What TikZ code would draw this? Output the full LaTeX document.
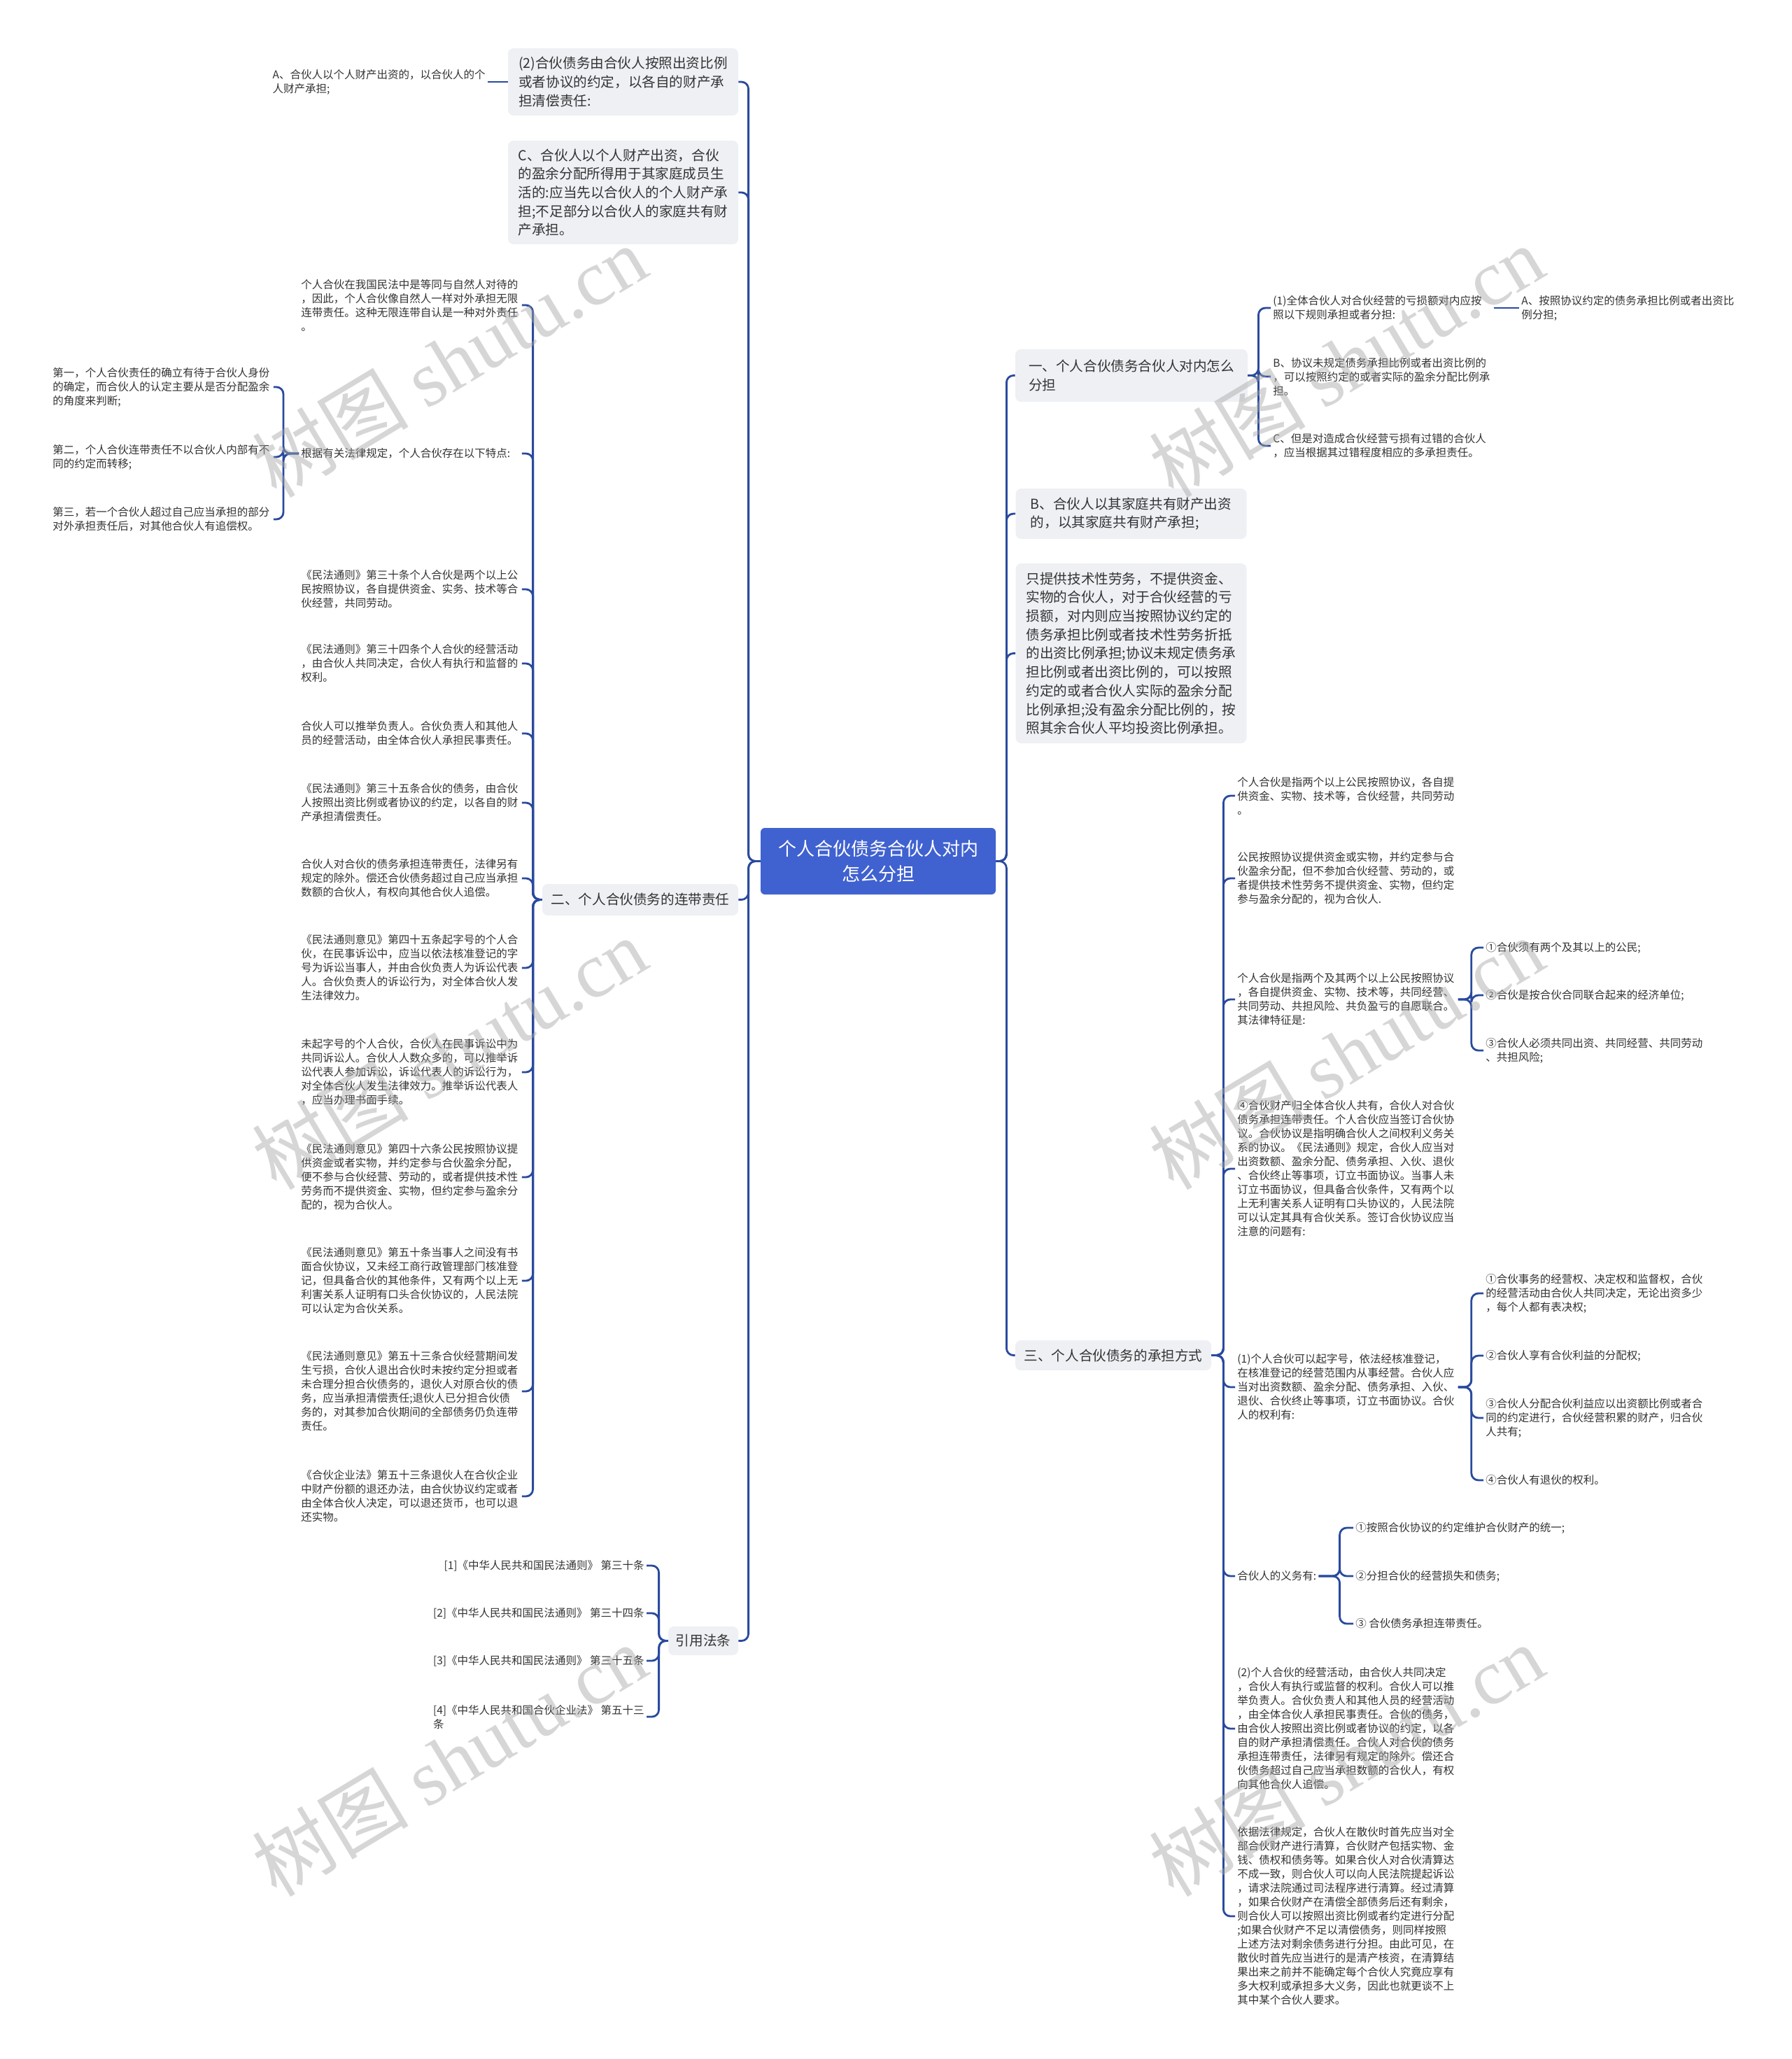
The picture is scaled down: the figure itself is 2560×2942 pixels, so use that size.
\documentclass[tikz,border=0pt]{standalone}
\usepackage{fontspec}
\setmainfont{Noto Sans CJK SC}
\newfontfamily\wmfont{Liberation Serif}
\definecolor{lnc}{HTML}{2A4A9E}
\definecolor{rootc}{HTML}{4062D0}
\definecolor{boxc}{HTML}{EEF0F4}
\definecolor{txc}{HTML}{333333}
\newcommand\smtxt{\fontsize{7.75pt}{10pt}\selectfont}
\newcommand\bxtxt{\fontsize{9.8pt}{13.35pt}\selectfont}
\newcommand\rttxt{\fontsize{13pt}{17.8pt}\selectfont}
\newcommand\wmtxt{\fontsize{56pt}{60pt}\selectfont}
\begin{document}
\begin{tikzpicture}[x=0.5pt,y=-0.5pt,
  lk/.style={draw=lnc, line width=1.4pt, rounded corners=5pt},
  rootbox/.style={fill=rootc, rounded corners=3pt, text=white, font=\rttxt, align=center, inner sep=0pt},
  gbox/.style={fill=boxc, rounded corners=4pt, text=txc, font=\bxtxt, align=left, inner sep=0pt},
  tx/.style={text=txc, font=\smtxt, align=left, inner xsep=1.5pt, inner ysep=1pt},
  twide/.style={tx, text width=156pt},
  wm/.style={text=black!35, text opacity=0.45, font=\wmtxt, rotate=31, inner sep=0pt}
]
\fill[white] (0,0) rectangle (2560,2942);
\useasboundingbox (0,0) rectangle (2560,2942);

% root
\node[rootbox, minimum width=168pt, minimum height=47.5pt] (root) at (1255,1230.5) {个人合伙债务合伙人对内\\怎么分担};

% ---------- left side ----------
\node[gbox, minimum width=164.5pt, minimum height=48pt] (n2) at (890.5,117) {(2)合伙债务由合伙人按照出资比例\\或者协议的约定，以各自的财产承\\担清偿责任:};
\node[tx, anchor=east] (n2a) at (697,117) {A、合伙人以个人财产出资的，以合伙人的个\\人财产承担;};
\node[gbox, minimum width=164.5pt, minimum height=74pt] (nC) at (890.5,275) {C、合伙人以个人财产出资，合伙\\的盈余分配所得用于其家庭成员生\\活的:应当先以合伙人的个人财产承\\担;不足部分以合伙人的家庭共有财\\产承担。};
\node[gbox, minimum width=140pt, minimum height=22.5pt] (er) at (915,1285.5) {二、个人合伙债务的连带责任};
\node[gbox, minimum width=50pt, minimum height=20.5pt] (yin) at (1005,2344.5) {引用法条};

\node[twide, anchor=west] (e1) at (427,436) {个人合伙在我国民法中是等同与自然人对待的\\，因此，个人合伙像自然人一样对外承担无限\\连带责任。这种无限连带自认是一种对外责任\\。};
\node[twide, anchor=west] (e2) at (427,648) {根据有关法律规定，个人合伙存在以下特点:};
\node[twide, anchor=west] (e3) at (427,842) {《民法通则》第三十条个人合伙是两个以上公\\民按照协议，各自提供资金、实务、技术等合\\伙经营，共同劳动。};
\node[twide, anchor=west] (e4) at (427,948) {《民法通则》第三十四条个人合伙的经营活动\\，由合伙人共同决定，合伙人有执行和监督的\\权利。};
\node[twide, anchor=west] (e5) at (427,1048) {合伙人可以推举负责人。合伙负责人和其他人\\员的经营活动，由全体合伙人承担民事责任。};
\node[twide, anchor=west] (e6) at (427,1147) {《民法通则》第三十五条合伙的债务，由合伙\\人按照出资比例或者协议的约定，以各自的财\\产承担清偿责任。};
\node[twide, anchor=west] (e7) at (427,1255) {合伙人对合伙的债务承担连带责任，法律另有\\规定的除外。偿还合伙债务超过自己应当承担\\数额的合伙人，有权向其他合伙人追偿。};
\node[twide, anchor=west] (e8) at (427,1383) {《民法通则意见》第四十五条起字号的个人合\\伙，在民事诉讼中，应当以依法核准登记的字\\号为诉讼当事人，并由合伙负责人为诉讼代表\\人。合伙负责人的诉讼行为，对全体合伙人发\\生法律效力。};
\node[twide, anchor=west] (e9) at (427,1532) {未起字号的个人合伙，合伙人在民事诉讼中为\\共同诉讼人。合伙人人数众多的，可以推举诉\\讼代表人参加诉讼，诉讼代表人的诉讼行为，\\对全体合伙人发生法律效力。推举诉讼代表人\\，应当办理书面手续。};
\node[twide, anchor=west] (e10) at (427,1682) {《民法通则意见》第四十六条公民按照协议提\\供资金或者实物，并约定参与合伙盈余分配，\\便不参与合伙经营、劳动的，或者提供技术性\\劳务而不提供资金、实物，但约定参与盈余分\\配的，视为合伙人。};
\node[twide, anchor=west] (e11) at (427,1830) {《民法通则意见》第五十条当事人之间没有书\\面合伙协议，又未经工商行政管理部门核准登\\记，但具备合伙的其他条件，又有两个以上无\\利害关系人证明有口头合伙协议的，人民法院\\可以认定为合伙关系。};
\node[twide, anchor=west] (e12) at (427,1988) {《民法通则意见》第五十三条合伙经营期间发\\生亏损，合伙人退出合伙时未按约定分担或者\\未合理分担合伙债务的，退伙人对原合伙的债\\务，应当承担清偿责任;退伙人已分担合伙债\\务的，对其参加合伙期间的全部债务仍负连带\\责任。};
\node[twide, anchor=west] (e13) at (427,2138) {《合伙企业法》第五十三条退伙人在合伙企业\\中财产份额的退还办法，由合伙协议约定或者\\由全体合伙人决定，可以退还货币，也可以退\\还实物。};

\node[twide, anchor=west] (g1) at (72,553) {第一，个人合伙责任的确立有待于合伙人身份\\的确定，而合伙人的认定主要从是否分配盈余\\的角度来判断;};
\node[twide, anchor=west] (g2) at (72,653) {第二，个人合伙连带责任不以合伙人内部有不\\同的约定而转移;};
\node[twide, anchor=west] (g3) at (72,742) {第三，若一个合伙人超过自己应当承担的部分\\对外承担责任后，对其他合伙人有追偿权。};

\node[tx, anchor=east] (c1) at (924,2237) {[1]《中华人民共和国民法通则》 第三十条};
\node[tx, anchor=east] (c2) at (924,2305) {[2]《中华人民共和国民法通则》 第三十四条};
\node[tx, anchor=east] (c3) at (924,2373) {[3]《中华人民共和国民法通则》 第三十五条};
\node[tx, anchor=east] (c4) at (924,2453) {[4]《中华人民共和国合伙企业法》 第五十三\\条};

% ---------- right side ----------
\node[gbox, minimum width=166pt, minimum height=37.5pt] (yi) at (1617,536.5) {一、个人合伙债务合伙人对内怎么\\分担};
\node[twide, anchor=west] (r1) at (1816,440) {(1)全体合伙人对合伙经营的亏损额对内应按\\照以下规则承担或者分担:};
\node[tx, anchor=west] (r1a) at (2171,440) {A、按照协议约定的债务承担比例或者出资比\\例分担;};
\node[twide, anchor=west] (r2) at (1816,538) {B、协议未规定债务承担比例或者出资比例的\\，可以按照约定的或者实际的盈余分配比例承\\担。};
\node[twide, anchor=west] (r3) at (1816,637) {C、但是对造成合伙经营亏损有过错的合伙人\\，应当根据其过错程度相应的多承担责任。};

\node[gbox, minimum width=165pt, minimum height=36pt] (B2) at (1616.5,734) {B、合伙人以其家庭共有财产出资\\的，以其家庭共有财产承担;};
\node[gbox, minimum width=165pt, minimum height=128.5pt] (zhi) at (1616.5,933.5) {只提供技术性劳务，不提供资金、\\实物的合伙人，对于合伙经营的亏\\损额，对内则应当按照协议约定的\\债务承担比例或者技术性劳务折抵\\的出资比例承担;协议未规定债务承\\担比例或者出资比例的，可以按照\\约定的或者合伙人实际的盈余分配\\比例承担;没有盈余分配比例的，按\\照其余合伙人平均投资比例承担。};
\node[gbox, minimum width=140pt, minimum height=21.5pt] (san) at (1591,1936.5) {三、个人合伙债务的承担方式};

\node[twide, anchor=west] (s1) at (1765,1137) {个人合伙是指两个以上公民按照协议，各自提\\供资金、实物、技术等，合伙经营，共同劳动\\。};
\node[twide, anchor=west] (s2) at (1765,1255) {公民按照协议提供资金或实物，并约定参与合\\伙盈余分配，但不参加合伙经营、劳动的，或\\者提供技术性劳务不提供资金、实物，但约定\\参与盈余分配的，视为合伙人.};
\node[twide, anchor=west] (s3) at (1765,1428) {个人合伙是指两个及其两个以上公民按照协议\\，各自提供资金、实物、技术等，共同经营、\\共同劳动、共担风险、共负盈亏的自愿联合。\\其法律特征是:};
\node[tx, anchor=west] (t1) at (2120,1354) {①合伙须有两个及其以上的公民;};
\node[tx, anchor=west] (t2) at (2120,1422) {②合伙是按合伙合同联合起来的经济单位;};
\node[tx, anchor=west] (t3) at (2120,1501) {③合伙人必须共同出资、共同经营、共同劳动\\、共担风险;};
\node[twide, anchor=west] (s4) at (1765,1670) {④合伙财产归全体合伙人共有，合伙人对合伙\\债务承担连带责任。个人合伙应当签订合伙协\\议。合伙协议是指明确合伙人之间权利义务关\\系的协议。《民法通则》规定，合伙人应当对\\出资数额、盈余分配、债务承担、入伙、退伙\\、合伙终止等事项，订立书面协议。当事人未\\订立书面协议，但具备合伙条件，又有两个以\\上无利害关系人证明有口头协议的，人民法院\\可以认定其具有合伙关系。签订合伙协议应当\\注意的问题有:};
\node[twide, anchor=west] (s5) at (1765,1982) {(1)个人合伙可以起字号，依法经核准登记，\\在核准登记的经营范围内从事经营。合伙人应\\当对出资数额、盈余分配、债务承担、入伙、\\退伙、合伙终止等事项，订立书面协议。合伙\\人的权利有:};
\node[tx, anchor=west] (u1) at (2120,1848) {①合伙事务的经营权、决定权和监督权，合伙\\的经营活动由合伙人共同决定，无论出资多少\\，每个人都有表决权;};
\node[tx, anchor=west] (u2) at (2120,1937) {②合伙人享有合伙利益的分配权;};
\node[tx, anchor=west] (u3) at (2120,2026) {③合伙人分配合伙利益应以出资额比例或者合\\同的约定进行，合伙经营积累的财产，归合伙\\人共有;};
\node[tx, anchor=west] (u4) at (2120,2115) {④合伙人有退伙的权利。};
\node[tx, anchor=west] (s6) at (1765,2252) {合伙人的义务有:};
\node[tx, anchor=west] (v1) at (1934,2183) {①按照合伙协议的约定维护合伙财产的统一;};
\node[tx, anchor=west] (v2) at (1934,2252) {②分担合伙的经营损失和债务;};
\node[tx, anchor=west] (v3) at (1934,2320) {③ 合伙债务承担连带责任。};
\node[twide, anchor=west] (s7) at (1765,2470) {(2)个人合伙的经营活动，由合伙人共同决定\\，合伙人有执行或监督的权利。合伙人可以推\\举负责人。合伙负责人和其他人员的经营活动\\，由全体合伙人承担民事责任。合伙的债务，\\由合伙人按照出资比例或者协议的约定，以各\\自的财产承担清偿责任。合伙人对合伙的债务\\承担连带责任，法律另有规定的除外。偿还合\\伙债务超过自己应当承担数额的合伙人，有权\\向其他合伙人追偿。};
\node[twide, anchor=west] (s8) at (1765,2738) {依据法律规定，合伙人在散伙时首先应当对全\\部合伙财产进行清算，合伙财产包括实物、金\\钱、债权和债务等。如果合伙人对合伙清算达\\不成一致，则合伙人可以向人民法院提起诉讼\\，请求法院通过司法程序进行清算。经过清算\\，如果合伙财产在清偿全部债务后还有剩余，\\则合伙人可以按照出资比例或者约定进行分配\\;如果合伙财产不足以清偿债务，则同样按照\\上述方法对剩余债务进行分担。由此可见，在\\散伙时首先应当进行的是清产核资，在清算结\\果出来之前并不能确定每个合伙人究竟应享有\\多大权利或承担多大义务，因此也就更谈不上\\其中某个合伙人要求。};

% ---------- connectors ----------
\foreach \nd in {n2,nC,er,yin} \draw[lk] (root.west) -- ++(-17,0) |- (\nd.east);
\foreach \nd in {yi,B2,zhi,san} \draw[lk] (root.east) -- ++(15,0) |- (\nd.west);
\draw[lk] (n2.west) -- (n2a.east);
\foreach \nd in {e1,e2,e3,e4,e5,e6,e7,e8,e9,e10,e11,e12,e13} \draw[lk] (er.west) -- ++(-13,0) |- (\nd.east);
\foreach \nd in {g1,g2,g3} \draw[lk] (e2.west) -- ++(-22,0) |- (\nd.east);
\foreach \nd in {c1,c2,c3,c4} \draw[lk] (yin.west) -- ++(-13,0) |- (\nd.east);
\foreach \nd in {r1,r2,r3} \draw[lk] (yi.east) -- ++(15,0) |- (\nd.west);
\draw[lk] (r1.east) -- (r1a.west);
\foreach \nd in {s1,s2,s3,s4,s5,s6,s7,s8} \draw[lk] (san.east) -- ++(17,0) |- (\nd.west);
\foreach \nd in {t1,t2,t3} \draw[lk] (s3.east) -- ++(19,0) |- (\nd.west);
\foreach \nd in {u1,u2,u3,u4} \draw[lk] (s5.east) -- ++(19,0) |- (\nd.west);
\foreach \nd in {v1,v2,v3} \draw[lk] (s6.east) -- ++(30,0) |- (\nd.west);

% ---------- watermarks ----------
\node[wm] (w1) at (642,516) {树图 {\wmfont shutu.cn}};
\node[wm] (w2) at (1924,516) {树图 {\wmfont shutu.cn}};
\node[wm] (w3) at (642,1505) {树图 {\wmfont shutu.cn}};
\node[wm] (w4) at (1924,1505) {树图 {\wmfont shutu.cn}};
\node[wm] (w5) at (642,2515) {树图 {\wmfont shutu.cn}};
\node[wm] (w6) at (1924,2515) {树图 {\wmfont shutu.cn}};
\end{tikzpicture}
\end{document}
